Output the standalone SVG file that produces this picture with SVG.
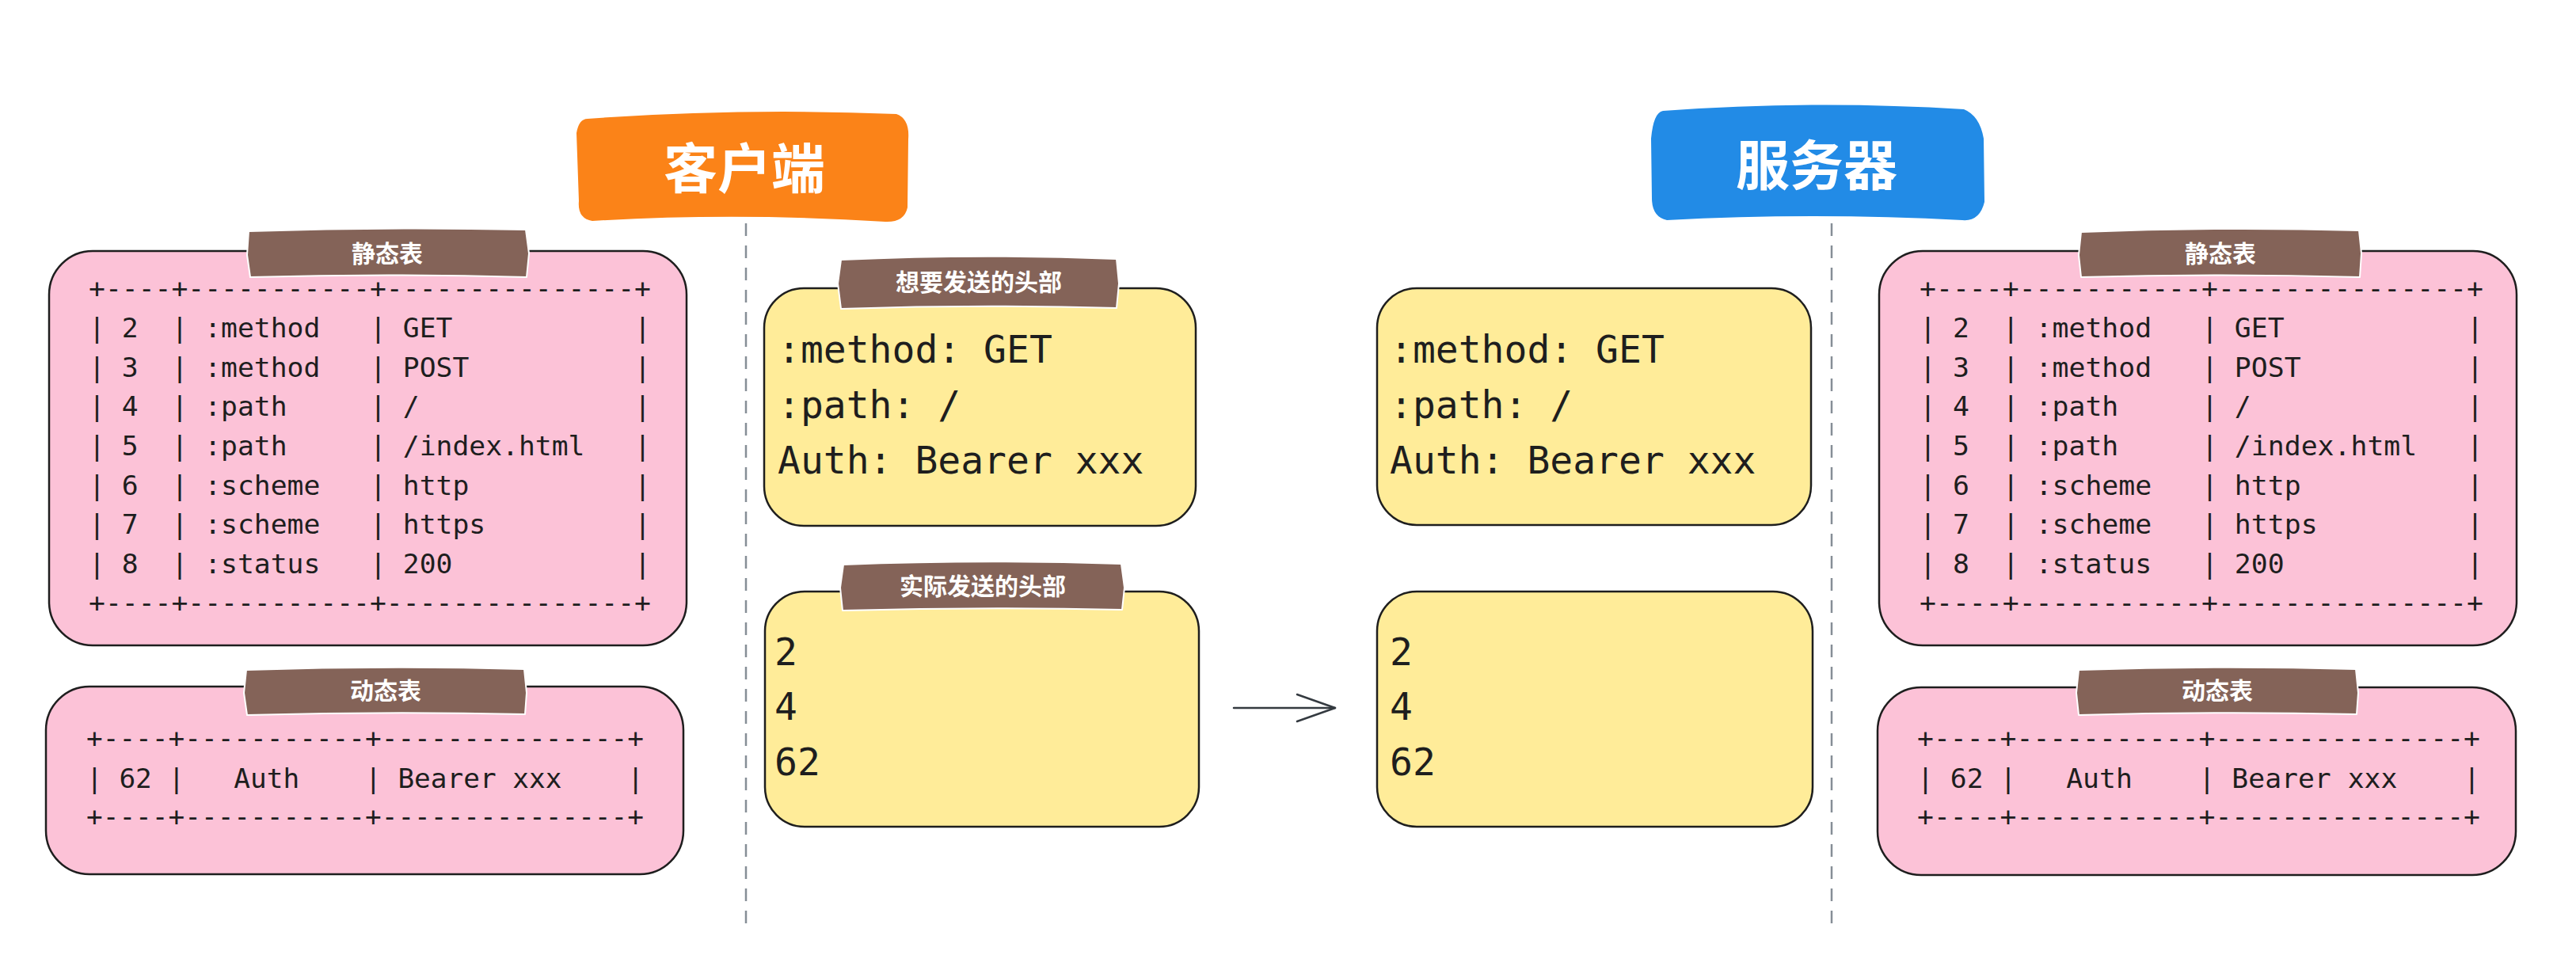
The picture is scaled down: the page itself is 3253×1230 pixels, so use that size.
<svg xmlns="http://www.w3.org/2000/svg" width="3253" height="1230" viewBox="0 0 3253 1230">
<style>
.box{stroke:#1e1e1e;stroke-width:2.5}
.pink{fill:#fcc2d7}
.yellow{fill:#ffec99}
.tag{fill:#846358;stroke:#ffffff;stroke-width:2;stroke-linejoin:round}
.tagtext{font-family:"Noto Sans CJK SC",sans-serif;font-size:30px;fill:#ffffff;font-weight:700;text-anchor:middle;dominant-baseline:central}
.mono{font-family:"DejaVu Sans Mono","Liberation Mono",monospace;fill:#1e1e1e;white-space:pre}
.tbl{font-size:34px}
.hdr{font-size:48px}
.title{font-family:"Noto Sans CJK SC",sans-serif;font-size:68px;fill:#ffffff;font-weight:700;text-anchor:middle;dominant-baseline:central}
.divider{stroke:#868e96;stroke-width:2.5;stroke-dasharray:16 12;fill:none}
.arrow{stroke:#343a40;stroke-width:2.5;fill:none;stroke-linecap:round;stroke-linejoin:round}
</style>
<rect width="3253" height="1230" fill="#ffffff"/>

<g id="connectors">
<line class="divider" x1="942" y1="282" x2="942" y2="1172"/>
<line class="divider" x1="2313" y1="282" x2="2313" y2="1172"/>
<line class="arrow" x1="1558" y1="894" x2="1686" y2="894"/>
<polyline class="arrow" points="1638,877 1686,894 1638,911"/>
</g>

<g id="client-title">
<path d="M742 150 Q935 136 1132 144 Q1149 150 1147 176 L1146 262 Q1142 281 1118 280 Q930 268 748 279 Q729 276 731 254 L728 168 Q731 150 742 150 Z" fill="#fb8318"/>
<text class="title" x="940" y="208">客户端</text>
</g>

<g id="server-title">
<path d="M2100 140 Q2290 126 2480 138 Q2500 146 2505 175 L2506 255 Q2500 280 2478 278 Q2290 268 2105 278 Q2086 274 2086 250 L2085 175 Q2088 142 2100 140 Z" fill="#228be6"/>
<text class="title" x="2294" y="204">服务器</text>
</g>

<g id="client-static-table">
<rect class="box pink" x="62" y="317" width="805" height="498" rx="55"/>
<path class="tag" d="M314 292 Q490 286 664 290 L668 320 L665 350 Q490 345 316 350 L312 322 Z"/>
<text class="tagtext" x="489" y="318">静态表</text>
<g class="mono tbl">
<text xml:space="preserve" x="112" y="376" textLength="710" lengthAdjust="spacingAndGlyphs">+----+-----------+---------------+</text>
<text xml:space="preserve" x="112" y="426" textLength="710" lengthAdjust="spacingAndGlyphs">| 2  | :method   | GET           |</text>
<text xml:space="preserve" x="112" y="476" textLength="710" lengthAdjust="spacingAndGlyphs">| 3  | :method   | POST          |</text>
<text xml:space="preserve" x="112" y="525" textLength="710" lengthAdjust="spacingAndGlyphs">| 4  | :path     | /             |</text>
<text xml:space="preserve" x="112" y="575" textLength="710" lengthAdjust="spacingAndGlyphs">| 5  | :path     | /index.html   |</text>
<text xml:space="preserve" x="112" y="625" textLength="710" lengthAdjust="spacingAndGlyphs">| 6  | :scheme   | http          |</text>
<text xml:space="preserve" x="112" y="674" textLength="710" lengthAdjust="spacingAndGlyphs">| 7  | :scheme   | https         |</text>
<text xml:space="preserve" x="112" y="724" textLength="710" lengthAdjust="spacingAndGlyphs">| 8  | :status   | 200           |</text>
<text xml:space="preserve" x="112" y="773" textLength="710" lengthAdjust="spacingAndGlyphs">+----+-----------+---------------+</text>
</g>
</g>

<g id="client-dynamic-table">
<rect class="box pink" x="58" y="867" width="805" height="237" rx="55"/>
<path class="tag" d="M311 846 Q487 840 662 845 L665 875 L663 902 Q487 898 312 903 L308 875 Z"/>
<text class="tagtext" x="487" y="870">动态表</text>
<g class="mono tbl">
<text xml:space="preserve" x="109" y="944" textLength="704" lengthAdjust="spacingAndGlyphs">+----+-----------+---------------+</text>
<text xml:space="preserve" x="109" y="995" textLength="704" lengthAdjust="spacingAndGlyphs">| 62 |   Auth    | Bearer xxx    |</text>
<text xml:space="preserve" x="109" y="1043" textLength="704" lengthAdjust="spacingAndGlyphs">+----+-----------+---------------+</text>
</g>
</g>

<g id="client-wanted-headers">
<rect class="box yellow" x="965" y="364" width="545" height="300" rx="50"/>
<path class="tag" d="M1062 328 Q1236 320 1410 327 L1413 358 L1410 389 Q1236 384 1062 390 L1058 358 Z"/>
<text class="tagtext" x="1236" y="354">想要发送的头部</text>
<g class="mono hdr">
<text x="982" y="458">:method: GET</text>
<text x="982" y="528">:path: /</text>
<text x="982" y="598">Auth: Bearer xxx</text>
</g>
</g>

<g id="client-sent-headers">
<rect class="box yellow" x="966" y="747" width="548" height="297" rx="50"/>
<path class="tag" d="M1065 713 Q1240 706 1416 712 L1420 742 L1417 770 Q1240 766 1064 771 L1061 742 Z"/>
<text class="tagtext" x="1241" y="738">实际发送的头部</text>
<g class="mono hdr">
<text x="978" y="840">2</text>
<text x="978" y="909">4</text>
<text x="978" y="979">62</text>
</g>
</g>

<g id="server-received-headers">
<rect class="box yellow" x="1739" y="747" width="550" height="297" rx="50"/>
<g class="mono hdr">
<text x="1755" y="840">2</text>
<text x="1755" y="909">4</text>
<text x="1755" y="979">62</text>
</g>
</g>

<g id="server-decoded-headers">
<rect class="box yellow" x="1739" y="364" width="548" height="299" rx="50"/>
<g class="mono hdr">
<text x="1755" y="458">:method: GET</text>
<text x="1755" y="528">:path: /</text>
<text x="1755" y="598">Auth: Bearer xxx</text>
</g>
</g>

<g id="server-static-table">
<rect class="box pink" x="2373" y="317" width="805" height="498" rx="55"/>
<path class="tag" d="M2628 293 Q2805 286 2979 291 L2982 320 L2980 350 Q2805 345 2628 350 L2625 322 Z"/>
<text class="tagtext" x="2804" y="318">静态表</text>
<g class="mono tbl">
<text xml:space="preserve" x="2424" y="376" textLength="712" lengthAdjust="spacingAndGlyphs">+----+-----------+---------------+</text>
<text xml:space="preserve" x="2424" y="426" textLength="712" lengthAdjust="spacingAndGlyphs">| 2  | :method   | GET           |</text>
<text xml:space="preserve" x="2424" y="476" textLength="712" lengthAdjust="spacingAndGlyphs">| 3  | :method   | POST          |</text>
<text xml:space="preserve" x="2424" y="525" textLength="712" lengthAdjust="spacingAndGlyphs">| 4  | :path     | /             |</text>
<text xml:space="preserve" x="2424" y="575" textLength="712" lengthAdjust="spacingAndGlyphs">| 5  | :path     | /index.html   |</text>
<text xml:space="preserve" x="2424" y="625" textLength="712" lengthAdjust="spacingAndGlyphs">| 6  | :scheme   | http          |</text>
<text xml:space="preserve" x="2424" y="674" textLength="712" lengthAdjust="spacingAndGlyphs">| 7  | :scheme   | https         |</text>
<text xml:space="preserve" x="2424" y="724" textLength="712" lengthAdjust="spacingAndGlyphs">| 8  | :status   | 200           |</text>
<text xml:space="preserve" x="2424" y="773" textLength="712" lengthAdjust="spacingAndGlyphs">+----+-----------+---------------+</text>
</g>
</g>

<g id="server-dynamic-table">
<rect class="box pink" x="2371" y="868" width="806" height="237" rx="55"/>
<path class="tag" d="M2625 846 Q2800 840 2975 845 L2978 875 L2976 902 Q2800 898 2625 903 L2622 875 Z"/>
<text class="tagtext" x="2800" y="870">动态表</text>
<g class="mono tbl">
<text xml:space="preserve" x="2421" y="944" textLength="711" lengthAdjust="spacingAndGlyphs">+----+-----------+---------------+</text>
<text xml:space="preserve" x="2421" y="995" textLength="711" lengthAdjust="spacingAndGlyphs">| 62 |   Auth    | Bearer xxx    |</text>
<text xml:space="preserve" x="2421" y="1043" textLength="711" lengthAdjust="spacingAndGlyphs">+----+-----------+---------------+</text>
</g>
</g>
</svg>
